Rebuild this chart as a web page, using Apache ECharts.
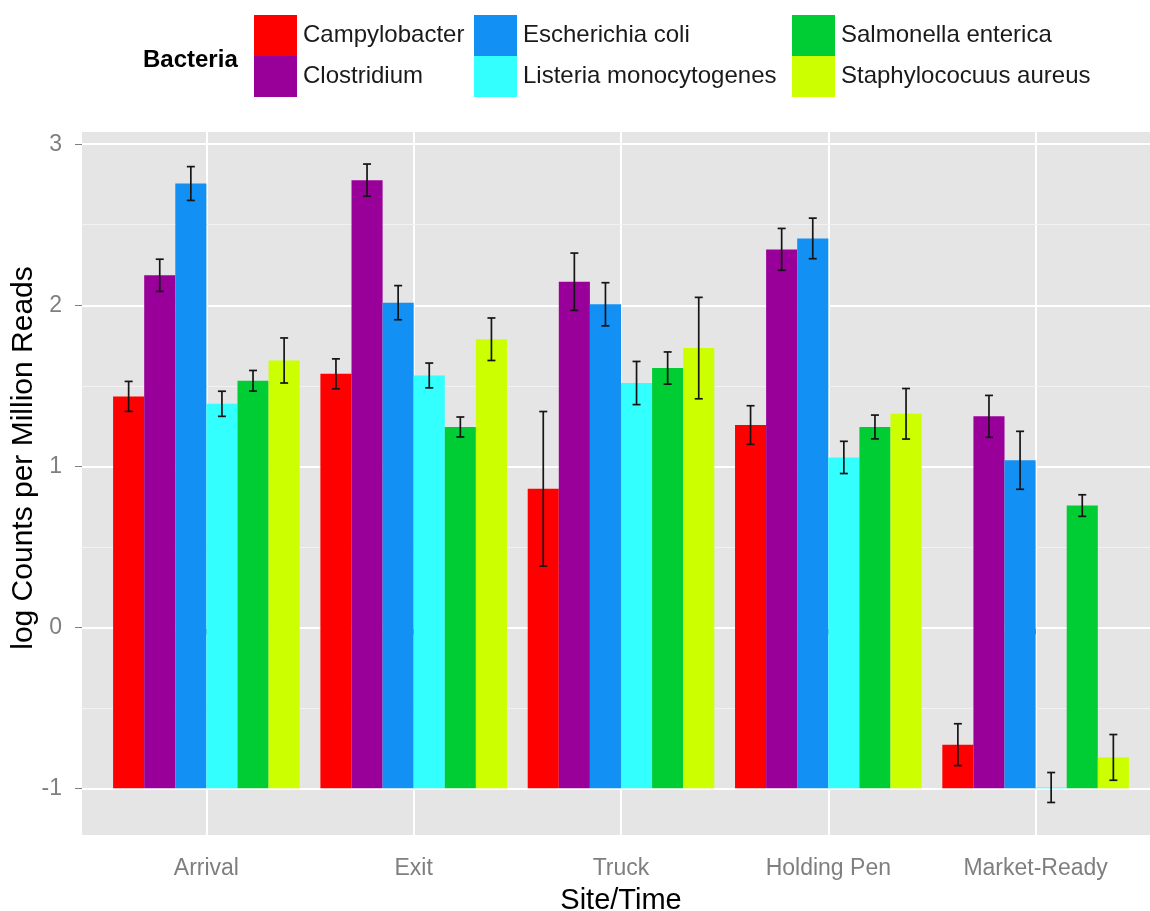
<!DOCTYPE html>
<html>
<head>
<meta charset="utf-8">
<script src="https://cdn.jsdelivr.net/npm/echarts@6/dist/echarts.min.js"></script>
<style>
  html, body { margin: 0; padding: 0; background: #ffffff; }
  #chart { width: 1150px; height: 911px; }
</style>
</head>
<body>
<div id="chart"></div>
<script>
// Sampling sites / time points along the chain
const sites = ['Arrival', 'Exit', 'Truck', 'Holding Pen', 'Market-Ready'];

// Bacteria groups and their fill colours
const bacteria = ['Campylobacter', 'Clostridium', 'Escherichia coli',
                  'Listeria monocytogenes', 'Salmonella enterica', 'Staphylococuus aureus'];
const fills = ['#FF0000', '#990099', '#1390F4', '#33FFFF', '#00CC33', '#CCFF00'];

// Mean log counts per million reads, one value per site
const campylobacter = [1.434, 1.574, 0.860, 1.256, -0.729];
const clostridium   = [2.186, 2.777, 2.146, 2.347, 1.310];
const ecoli         = [2.756, 2.016, 2.006, 2.415, 1.037];
const listeria      = [1.388, 1.564, 1.517, 1.055, -0.995];
const salmonella    = [1.531, 1.244, 1.610, 1.244, 0.756];
const staphylococus = [1.657, 1.789, 1.734, 1.326, -0.808];

// Standard errors for the same cells
const campylobacterSE = [0.093, 0.093, 0.480, 0.120, 0.130];
const clostridiumSE   = [0.100, 0.100, 0.178, 0.130, 0.130];
const ecoliSE         = [0.105, 0.106, 0.134, 0.126, 0.180];
const listeriaSE      = [0.078, 0.077, 0.134, 0.100, 0.093];
const salmonellaSE    = [0.064, 0.062, 0.100, 0.074, 0.067];
const staphylococusSE = [0.140, 0.132, 0.315, 0.157, 0.142];

// Axis ticks
const yTicks = [-1, 0, 1, 2, 3];
const yMinorTicks = [-0.5, 0.5, 1.5, 2.5];
const xTicks = sites.map((s, i) => i + 1);

const means = [campylobacter, clostridium, ecoli, listeria, salmonella, staphylococus];
const errors = [campylobacterSE, clostridiumSE, ecoliSE, listeriaSE, salmonellaSE, staphylococusSE];

const BASELINE = -1;       // bars rise from -1 on the log scale
const GROUP_WIDTH = 0.9;   // share of each site slot taken by its bars
const FONT = '"Liberation Sans", Arial, Helvetica, sans-serif';
const GREY = '#7F7F7F';

function barRenderer(k) {
  const n = bacteria.length;
  const w = GROUP_WIDTH / n;
  return function (params, api) {
    const site = api.value(0);
    const mean = api.value(1);
    const se = api.value(2);
    const cx = site - GROUP_WIDTH / 2 + w * (k + 0.5);
    const a = api.coord([cx - w / 2, BASELINE]);
    const b = api.coord([cx + w / 2, mean]);
    const hi = api.coord([cx, mean + se]);
    const lo = api.coord([cx, mean - se]);
    const cap = 4;
    const errStyle = { stroke: '#151515', lineWidth: 1.7 };
    return {
      type: 'group',
      children: [
        {
          type: 'rect',
          shape: {
            x: a[0], y: Math.min(a[1], b[1]),
            width: b[0] - a[0], height: Math.abs(a[1] - b[1])
          },
          style: { fill: fills[k] }
        },
        { type: 'line', shape: { x1: hi[0], y1: hi[1], x2: lo[0], y2: lo[1] }, style: errStyle },
        { type: 'line', shape: { x1: hi[0] - cap, y1: hi[1], x2: hi[0] + cap, y2: hi[1] }, style: errStyle },
        { type: 'line', shape: { x1: lo[0] - cap, y1: lo[1], x2: lo[0] + cap, y2: lo[1] }, style: errStyle }
      ]
    };
  };
}

const series = bacteria.map((name, k) => ({
  name: name,
  type: 'custom',
  renderItem: barRenderer(k),
  itemStyle: { color: fills[k] },
  encode: { x: 0, y: 1 },
  data: sites.map((s, i) => [i + 1, means[k][i], errors[k][i]]),
  z: 3
}));

function legendColumn(names, left) {
  return {
    data: names,
    orient: 'vertical',
    left: left,
    top: 15,
    padding: 0,
    itemWidth: 43,
    itemHeight: 41,
    itemGap: 0,
    icon: 'rect',
    selectedMode: false,
    textStyle: { fontFamily: FONT, fontSize: 24, color: '#1a1a1a', padding: [0, 0, 0, 1] }
  };
}

const chart = echarts.init(document.getElementById('chart'), null, { renderer: 'canvas' });
chart.setOption({
  animation: false,
  backgroundColor: '#ffffff',
  color: fills,
  title: {
    text: 'Bacteria',
    left: 143,
    top: 48,
    padding: 0,
    textStyle: { fontFamily: FONT, fontSize: 24, fontWeight: 'bold', color: '#000000' }
  },
  legend: [
    legendColumn([bacteria[0], bacteria[1]], 254),
    legendColumn([bacteria[2], bacteria[3]], 474),
    legendColumn([bacteria[4], bacteria[5]], 792)
  ],
  graphic: [
    {
      type: 'text',
      x: 24,
      y: 458,
      rotation: Math.PI / 2,
      style: {
        text: 'log Counts per Million Reads',
        fontFamily: FONT,
        fontSize: 30,
        fill: '#000000',
        align: 'center',
        verticalAlign: 'middle'
      }
    }
  ],
  grid: {
    left: 82,
    top: 132,
    width: 1078,
    height: 703,
    show: true,
    backgroundColor: '#E5E5E5',
    borderWidth: 0,
    containLabel: false,
    outerBoundsMode: 'none'
  },
  xAxis: {
    type: 'value',
    min: 0.4,
    max: 5.6,
    name: 'Site/Time',
    nameLocation: 'middle',
    nameGap: 51,
    nameTextStyle: { fontFamily: FONT, fontSize: 29, color: '#000000' },
    axisLine: { show: false },
    axisTick: { show: true, customValues: xTicks, length: 7, lineStyle: { color: GREY, width: 1 } },
    axisLabel: {
      customValues: xTicks,
      formatter: v => sites[Math.round(v) - 1] || '',
      fontFamily: FONT, fontSize: 23, color: GREY, margin: 22
    },
    splitLine: { show: true, lineStyle: { color: '#FFFFFF', width: 2 } }
  },
  yAxis: [
    {
      type: 'value',
      min: -1.29,
      max: 3.076,
      axisLine: { show: false },
      axisTick: { show: true, customValues: yTicks, length: 7, lineStyle: { color: GREY, width: 1 } },
      axisLabel: {
        customValues: yTicks,
        formatter: v => String(Math.round(v)),
        fontFamily: FONT, fontSize: 23, color: GREY, margin: 20
      },
      splitLine: { show: true, lineStyle: { color: '#FFFFFF', width: 2 } },
      z: 2
    },
    {
      type: 'value',
      min: -1.29,
      max: 3.076,
      axisLine: { show: false },
      axisTick: { show: false, customValues: yMinorTicks },
      axisLabel: { show: false, customValues: yMinorTicks },
      splitLine: { show: true, lineStyle: { color: '#F2F2F2', width: 1 } },
      z: 1
    }
  ],
  series: series
});
</script>
</body>
</html>
